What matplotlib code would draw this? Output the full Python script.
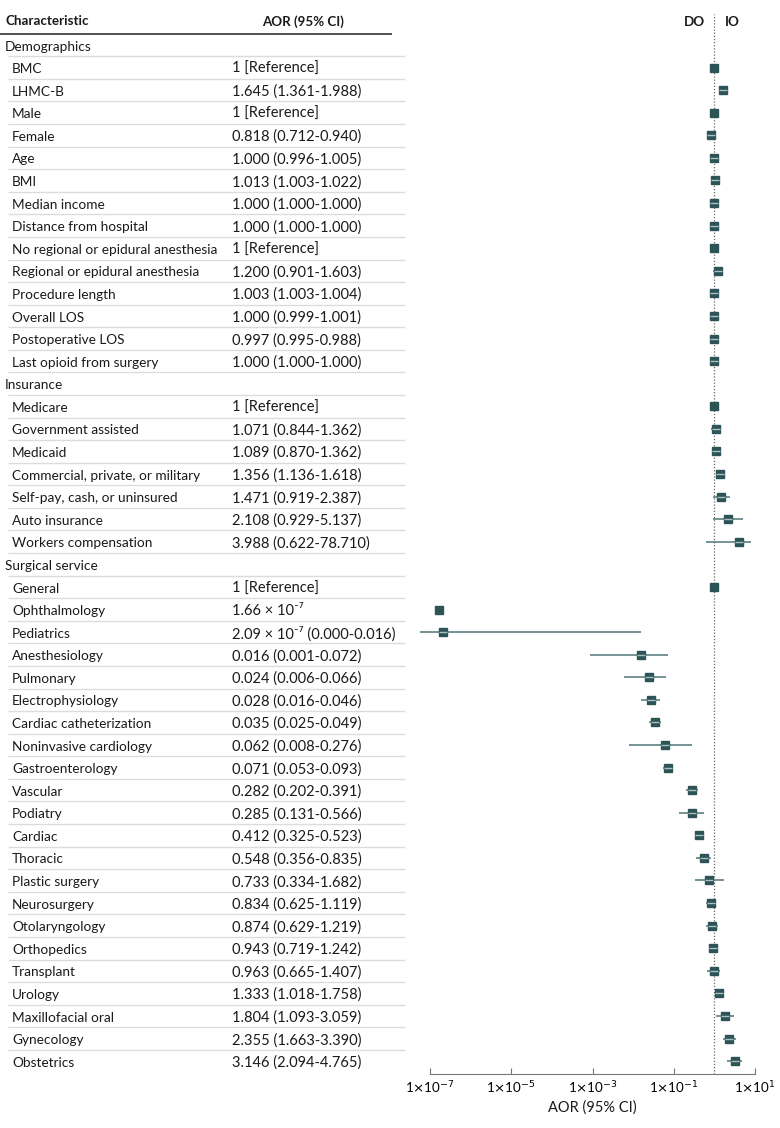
import numpy as np
import matplotlib
matplotlib.use("Agg")
import matplotlib.pyplot as plt

plt.rcParams['font.family'] = ['Lato', 'DejaVu Sans']

# === Table rows (section headers have None as AOR text) ===
labels = [
    "Demographics", "BMC", "LHMC-B", "Male", "Female", "Age", "BMI", "Median income",
    "Distance from hospital", "No regional or epidural anesthesia",
    "Regional or epidural anesthesia", "Procedure length", "Overall LOS",
    "Postoperative LOS", "Last opioid from surgery",
    "Insurance", "Medicare", "Government assisted", "Medicaid",
    "Commercial, private, or military", "Self-pay, cash, or uninsured",
    "Auto insurance", "Workers compensation",
    "Surgical service", "General", "Ophthalmology", "Pediatrics", "Anesthesiology",
    "Pulmonary", "Electrophysiology", "Cardiac catheterization",
    "Noninvasive cardiology", "Gastroenterology", "Vascular", "Podiatry", "Cardiac",
    "Thoracic", "Plastic surgery", "Neurosurgery", "Otolaryngology", "Orthopedics",
    "Transplant", "Urology", "Maxillofacial oral", "Gynecology", "Obstetrics",
]
is_section = [l in ("Demographics", "Insurance", "Surgical service") for l in labels]

aor_text = [
    None, "1 [Reference]", "1.645 (1.361-1.988)", "1 [Reference]", "0.818 (0.712-0.940)",
    "1.000 (0.996-1.005)", "1.013 (1.003-1.022)", "1.000 (1.000-1.000)",
    "1.000 (1.000-1.000)", "1 [Reference]", "1.200 (0.901-1.603)",
    "1.003 (1.003-1.004)", "1.000 (0.999-1.001)", "0.997 (0.995-0.988)",
    "1.000 (1.000-1.000)",
    None, "1 [Reference]", "1.071 (0.844-1.362)", "1.089 (0.870-1.362)",
    "1.356 (1.136-1.618)", "1.471 (0.919-2.387)", "2.108 (0.929-5.137)",
    "3.988 (0.622-78.710)",
    None, "1 [Reference]", "1.66 \u00d7 10\u207b\u2077", "2.09 \u00d7 10\u207b\u2077 (0.000-0.016)",
    "0.016 (0.001-0.072)", "0.024 (0.006-0.066)", "0.028 (0.016-0.046)",
    "0.035 (0.025-0.049)", "0.062 (0.008-0.276)", "0.071 (0.053-0.093)",
    "0.282 (0.202-0.391)", "0.285 (0.131-0.566)", "0.412 (0.325-0.523)",
    "0.548 (0.356-0.835)", "0.733 (0.334-1.682)", "0.834 (0.625-1.119)",
    "0.874 (0.629-1.219)", "0.943 (0.719-1.242)", "0.963 (0.665-1.407)",
    "1.333 (1.018-1.758)", "1.804 (1.093-3.059)", "2.355 (1.663-3.390)",
    "3.146 (2.094-4.765)",
]

# === Plotted values (as drawn; NaN = no mark / no CI) ===
nan = np.nan
aor = [nan, 1, 1.645, 1, 0.818, 1.000, 1.013, 1.000, 1.000, 1, 1.200, 1.003, 1.000, 0.997, 1.000,
       nan, 1, 1.071, 1.089, 1.356, 1.471, 2.108, 3.988,
       nan, 1, 1.66e-7, 2.09e-7, 0.016, 0.024, 0.028, 0.035, 0.062, 0.071, 0.282, 0.285,
       0.412, 0.548, 0.733, 0.834, 0.874, 0.943, 0.963, 1.333, 1.804, 2.355, 3.146]
ci_lo = [nan, nan, 1.361, nan, 0.712, 0.996, 1.003, 1.000, 1.000, nan, 0.901, 1.003, 0.999, 0.995, 1.000,
         nan, nan, 0.844, 0.870, 1.136, 0.919, 0.929, 0.622,
         nan, nan, nan, 5.7e-8, 0.00087, 0.006, 0.016, 0.025, 0.008, 0.053, 0.202, 0.131,
         0.325, 0.356, 0.334, 0.625, 0.629, 0.719, 0.665, 1.018, 1.093, 1.663, 2.094]
ci_hi = [nan, nan, 1.988, nan, 0.940, 1.005, 1.022, 1.000, 1.000, nan, 1.603, 1.004, 1.001, 0.988, 1.000,
         nan, nan, 1.362, 1.362, 1.618, 2.387, 5.137, 7.871,
         nan, nan, nan, 0.016, 0.072, 0.066, 0.046, 0.049, 0.276, 0.093, 0.391, 0.566,
         0.523, 0.835, 1.682, 1.119, 1.219, 1.242, 1.407, 1.758, 3.059, 3.390, 4.765]

xticks = [1e-7, 1e-5, 1e-3, 1e-1, 1e1]
xtick_labels = [r"1$\times$10$^{-7}$", r"1$\times$10$^{-5}$", r"1$\times$10$^{-3}$",
                r"1$\times$10$^{-1}$", r"1$\times$10$^{1}$"]

W, H = 780, 1128
fig = plt.figure(figsize=(W / 100, H / 100), dpi=100)

n = len(labels)
ylim = (45.57, -1.55)
bottom = 54 / H
height = (1074 - 10) / H

# === Table axes (x in pixels) ===
tab = fig.add_axes([0, bottom, 410 / W, height])
tab.set_xlim(0, 410)
tab.set_ylim(*ylim)
tab.axis("off")

text_color = "#1a1a1a"
fs_label = 9.8
fs_num = 10.5
fs_bold = 9.6
dy = 0.07  # nudge text a bit below row centre
tab.text(5, -1.05, "Characteristic", fontsize=fs_bold, fontweight="bold", va="center", color=text_color)
tab.text(262, -1.05, "AOR (95% CI)", fontsize=fs_bold, fontweight="bold", va="center", color=text_color)
tab.plot([0, 392], [-0.5, -0.5], color="#333333", lw=1.2, solid_capstyle="butt")

for i, lab in enumerate(labels):
    if is_section[i]:
        tab.text(5, i + dy, lab, fontsize=fs_label, va="center", color=text_color)
    else:
        tab.text(12, i + dy, lab, fontsize=fs_label, va="center", color=text_color)
        tab.text(232, i + dy, aor_text[i], fontsize=fs_num, va="center", color=text_color)
    if i < n - 1:
        tab.plot([8, 405], [i + 0.5, i + 0.5], color="#dcdcdc", lw=1, solid_capstyle="butt")

# === Forest plot axes ===
ax = fig.add_axes([415 / W, bottom, (770 - 415) / W, height])
ax.set_xscale("log")
ax.set_xlim(10 ** -7.369, 10 ** 1.369)
ax.set_ylim(*ylim)

teal = "#2c5457"
line_c = "#4f7578"
y = np.arange(n)
aor_a = np.array(aor)
lo_a = np.array(ci_lo)
hi_a = np.array(ci_hi)

ax.axvline(1, ymin=0, ymax=(ylim[0] + 1.37) / (ylim[0] - ylim[1]), color="#666666",
           lw=0.9, ls=(0, (1, 1.5)), zorder=0)

has_ci = ~np.isnan(lo_a)
ax.hlines(y[has_ci], lo_a[has_ci], hi_a[has_ci], color=line_c, lw=1.1, zorder=2)
ax.plot(aor_a, y, ls="none", marker="s", ms=6.2, color=teal, mec=teal, zorder=3)
ax.plot(aor_a[has_ci], y[has_ci], ls="none", marker="_", ms=6.2, mew=1.0,
        color="#a8bfc0", zorder=4)

ax.annotate("DO", xy=(1, -1.02), xytext=(-7, 0), textcoords="offset points",
            ha="right", va="center", fontsize=fs_bold, fontweight="bold", color=text_color)
ax.annotate("IO", xy=(1, -1.02), xytext=(7.5, 0), textcoords="offset points",
            ha="left", va="center", fontsize=fs_bold, fontweight="bold", color=text_color)

for s in ["top", "right", "left"]:
    ax.spines[s].set_visible(False)
ax.spines["bottom"].set_bounds(1e-7, 1e1)
ax.spines["bottom"].set_color("#777777")
ax.set_yticks([])
ax.set_xticks(xticks)
ax.set_xticklabels(xtick_labels, fontsize=9.6)
ax.xaxis.set_minor_locator(matplotlib.ticker.NullLocator())
ax.tick_params(axis="x", direction="in", length=4, color="#777777", pad=4)
ax.set_xlabel("AOR (95% CI)", fontsize=fs_num, labelpad=3, color=text_color)
ax.patch.set_alpha(0)

fig.savefig("out.png", dpi=100)
